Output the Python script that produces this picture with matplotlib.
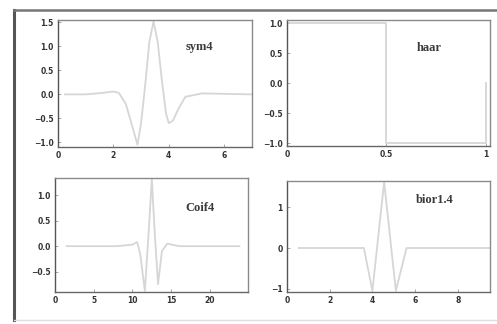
import matplotlib
matplotlib.use('Agg')
import matplotlib.pyplot as plt
from matplotlib.lines import Line2D

# wavelet shapes (x, psi)
sym4_x = [0.25, 1.0, 1.6, 2.0, 2.2, 2.45, 2.65, 2.87, 3.0, 3.15, 3.3, 3.45, 3.6, 3.75, 3.9, 4.0, 4.15, 4.35, 4.6, 5.2, 7.0]
sym4_y = [0.0, 0.0, 0.03, 0.06, 0.03, -0.2, -0.6, -1.05, -0.6, 0.2, 1.1, 1.52, 1.1, 0.3, -0.4, -0.6, -0.55, -0.3, -0.05, 0.02, 0.0]

haar_x = [0.0, 0.0, 0.5, 0.5, 1.0, 1.0]
haar_y = [0.0, 1.0, 1.0, -1.0, -1.0, 0.0]

coif_x = [1.5, 8.0, 10.0, 10.6, 11.0, 11.6, 12.1, 12.5, 12.9, 13.3, 13.8, 14.5, 16.0, 23.8]
coif_y = [0.0, 0.0, 0.03, 0.08, -0.15, -0.88, 0.3, 1.32, 0.2, -0.75, -0.1, 0.05, 0.0, 0.0]

bior_x = [0.55, 3.0, 3.6, 4.0, 4.55, 5.1, 5.6, 7.0, 9.5]
bior_y = [0.0, 0.0, 0.0, -1.05, 1.62, -1.05, 0.0, 0.0, 0.0]

names = ['sym4', 'haar', 'Coif4', 'bior1.4']

fig = plt.figure(figsize=(4.97, 3.24), dpi=100)
fig.patch.set_facecolor('white')

# scanned outer frame
fig.add_artist(Line2D([0.028, 0.028], [0.012, 0.969], color='#555555', lw=2.2, transform=fig.transFigure))
fig.add_artist(Line2D([0.028, 1.0], [0.969, 0.969], color='#777777', lw=1.8, transform=fig.transFigure))
fig.add_artist(Line2D([0.028, 1.0], [0.012, 0.012], color='#dddddd', lw=1.0, transform=fig.transFigure))

ax1 = fig.add_axes([0.1167, 0.546, 0.390, 0.392])
ax2 = fig.add_axes([0.5775, 0.549, 0.408, 0.389])
ax3 = fig.add_axes([0.1107, 0.0988, 0.388, 0.352])
ax4 = fig.add_axes([0.5775, 0.0988, 0.408, 0.343])

line_c = '#d6d6d6'
ax1.plot(sym4_x, sym4_y, color=line_c, lw=1.3)
ax1.set_xlim(0, 7)
ax1.set_ylim(-1.1, 1.55)
ax1.set_xticks([0, 2, 4, 6])
ax1.set_yticks([-1, -0.5, 0, 0.5, 1, 1.5])

ax2.plot(haar_x, haar_y, color=line_c, lw=1.3)
ax2.set_xlim(0, 1.02)
ax2.set_ylim(-1.05, 1.05)
ax2.set_xticks([0, 0.5, 1])
ax2.set_xticklabels(['0', '0.5', '1'])
ax2.set_yticks([-1, -0.5, 0, 0.5, 1])

ax3.plot(coif_x, coif_y, color=line_c, lw=1.3)
ax3.set_xlim(0, 24.9)
ax3.set_ylim(-0.9, 1.34)
ax3.set_xticks([0, 5, 10, 15, 20])
ax3.set_yticks([-0.5, 0, 0.5, 1])

ax4.plot(bior_x, bior_y, color=line_c, lw=1.3)
ax4.set_xlim(0, 9.5)
ax4.set_ylim(-1.08, 1.65)
ax4.set_xticks([0, 2, 4, 6, 8])
ax4.set_yticks([-1, 0, 1])

label_pos = [(0.73, 0.79), (0.70, 0.78), (0.75, 0.74), (0.73, 0.83)]
for ax, name, (tx, ty) in zip([ax1, ax2, ax3, ax4], names, label_pos):
    for s in ax.spines.values():
        s.set_color('#8a8a8a')
        s.set_linewidth(1.0)
    ax.spines['left'].set_color('#555555')
    ax.spines['bottom'].set_color('#666666')
    ax.tick_params(direction='in', length=2, width=0.6, colors='#999999',
                   labelsize=5.5, labelcolor='#333333', pad=3)
    for lab in ax.get_xticklabels() + ax.get_yticklabels():
        lab.set_fontweight('bold')
    ax.text(tx, ty, name, transform=ax.transAxes, ha='center', va='center',
            fontsize=9, fontweight='bold', family='Liberation Serif', color='#3a3a3a')

fig.savefig('out.png', dpi=100)
